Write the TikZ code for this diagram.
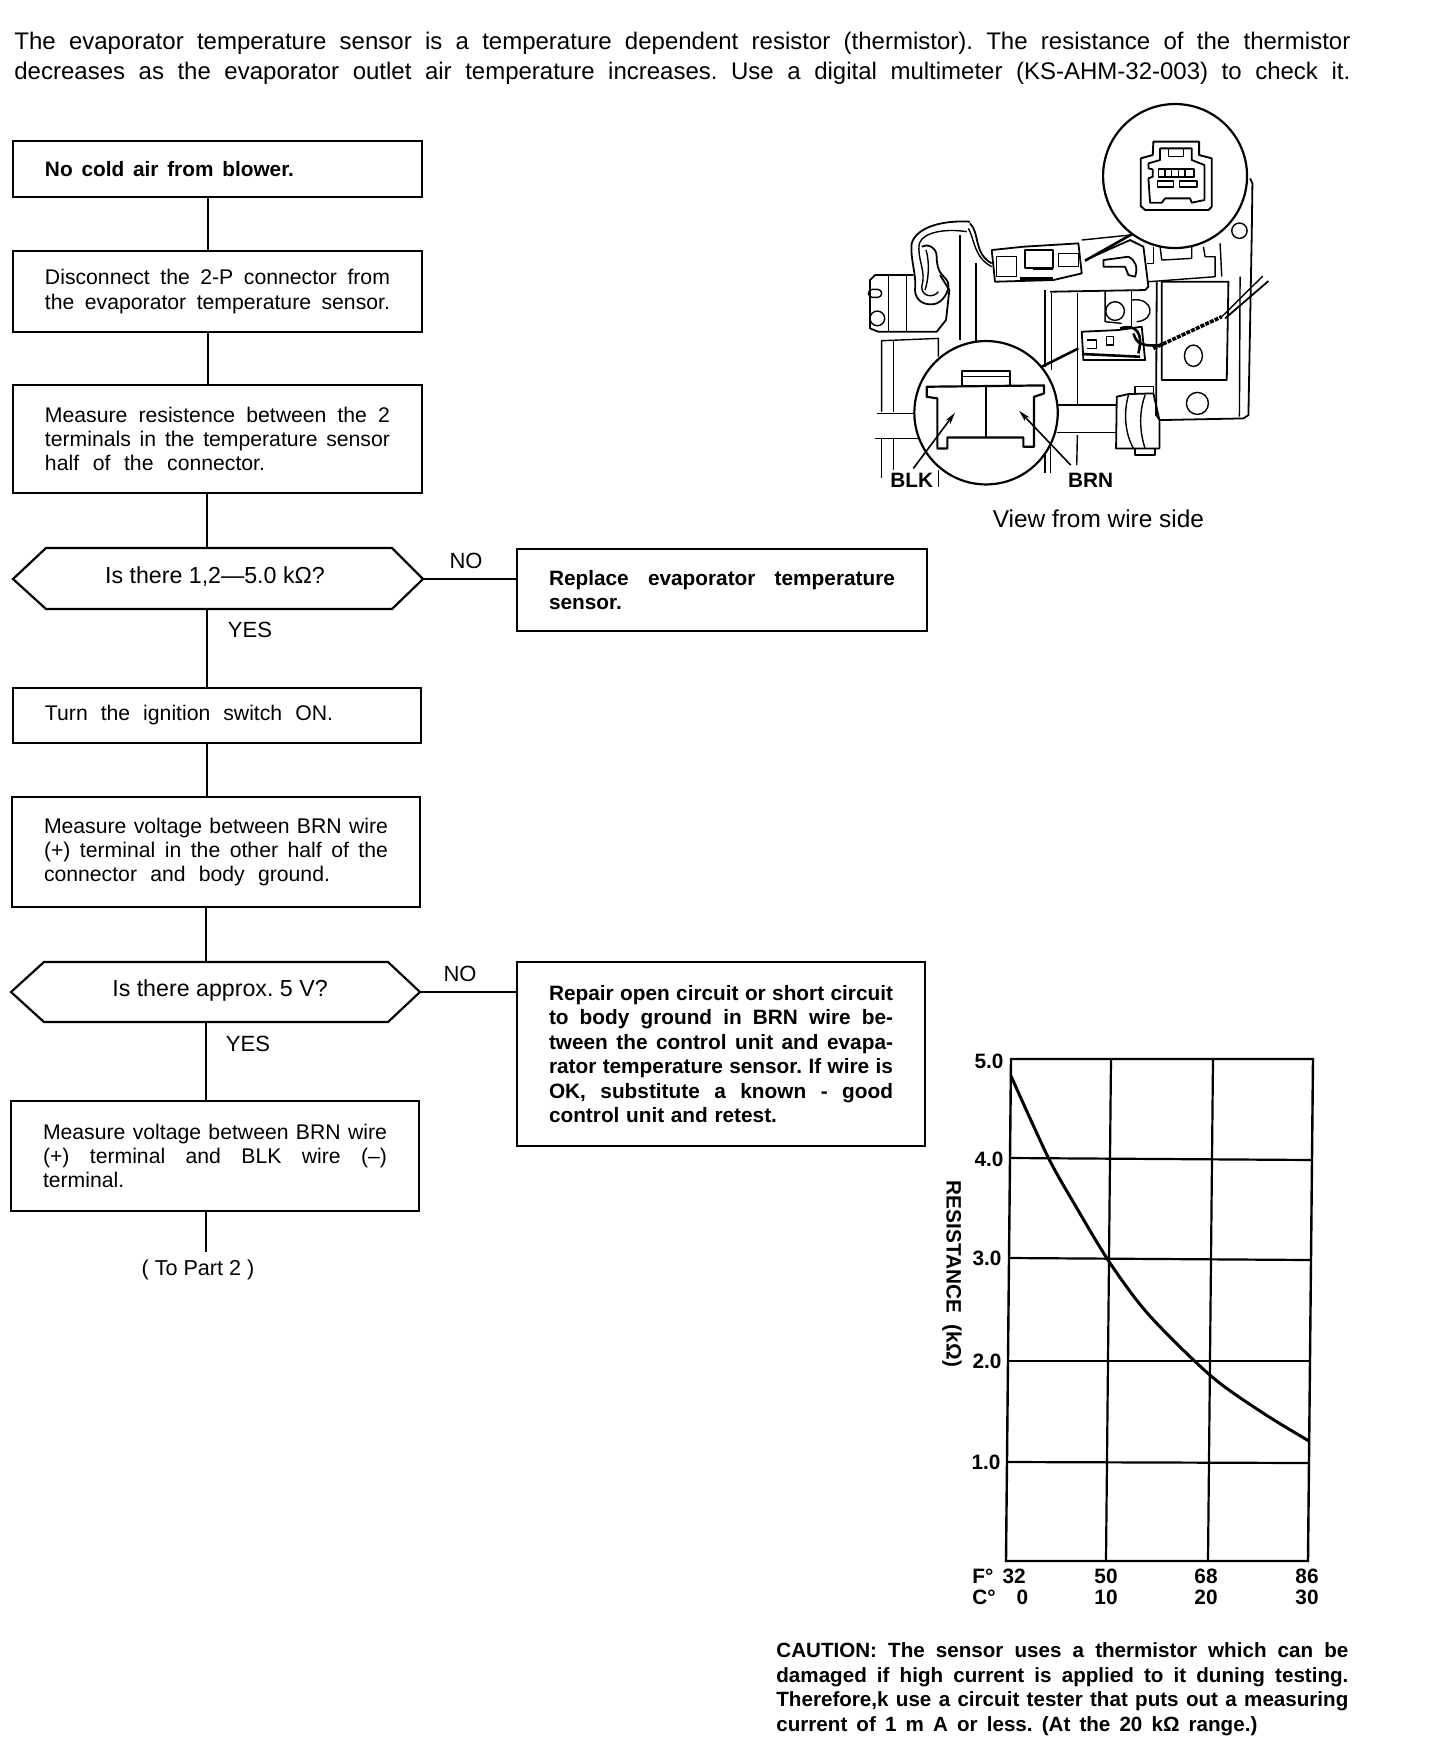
\documentclass[tikz,border=0pt]{standalone}
\usepackage{fontspec}
\setmainfont{Liberation Sans}
\usetikzlibrary{arrows.meta}
\newlength\jlw
\newcommand\jlx[2]{\leavevmode\hbox to #1{\spaceskip=0.28em plus 1fil\relax #2}}
\newcommand\jl[1]{\jlx{\jlw}{#1}}
\newcommand\bxnode[7][box]{%
  \pgfmathsetmacro\bxw{(#5-#3)*0.5}\pgfmathsetmacro\bxh{(#6-#4)*0.5}%
  \pgfmathsetmacro\bxt{\bxw-32}%
  \setlength\jlw{\bxt pt}%
  \node[#1,minimum width=\bxw pt,minimum height=\bxh pt,text width=\bxt pt] (#2) at ({(#3+#5)/2},{(#4+#6)/2}) {#7};}
\tikzset{
  x=0.5pt,y=-0.5pt,
  box/.style={draw,line width=1.2pt,inner xsep=16pt,inner ysep=0pt,outer sep=0pt,align=left,font=\fontsize{10.6}{12.2}\selectfont},
  boldbox/.style={box,font=\fontsize{10.4}{12.2}\bfseries\selectfont},
  decshape/.style={line width=1.1pt},
  link/.style={line width=1pt},
  lab/.style={font=\fontsize{11}{12}\selectfont,inner sep=0pt},
  grid line/.style={line width=1.1pt},
  draft/.style={line width=0.7pt},
  draftthick/.style={line width=1.3pt},
  tick label/.style={font=\fontsize{10.4}{10}\bfseries\selectfont,inner sep=0pt},
}
\begin{document}
\frenchspacing
\begin{tikzpicture}
\useasboundingbox (0,0) rectangle (1440,1742);
\fill[white] (0,0) rectangle (1440,1742);
% intro
\setlength\jlw{668pt}
\node[anchor=north west,inner sep=0pt,text width=668pt,align=left,font=\fontsize{12}{15}\selectfont] (intro) at (14,32) {\jl{The evaporator temperature sensor is a temperature dependent resistor (thermistor). The resistance of the thermistor}\\ \jl{decreases as the evaporator outlet air temperature increases. Use a digital multimeter (KS-AHM-32-003) to check it.}};
% flow boxes
\bxnode[boldbox]{b1}{13}{141}{422}{197}{\jlx{124.5pt}{No cold air from blower.}}
\bxnode{b2}{13}{251}{422}{332}{\jl{Disconnect the 2-P connector from}\\ \jl{the evaporator temperature sensor.}}
\bxnode{b3}{13}{385}{422}{493}{\jl{Measure resistence between the 2}\\ \jl{terminals in the temperature sensor}\\ \jlx{110pt}{half of the connector.}}
\node[lab,font=\fontsize{11.6}{12}\selectfont] (d1t) at (215,577) {Is there 1,2---5.0 kΩ?};
\draw[decshape] (13,579) coordinate (d1w) -- (46,548) coordinate (d1n1) -- (392,548) coordinate (d1n2) -- (423,579) coordinate (d1e) -- (392,609) coordinate (d1s2) -- (46,609) coordinate (d1s1) -- cycle;
\bxnode[boldbox]{n1}{517}{549}{927}{631}{\jl{Replace evaporator temperature}\\ sensor.}
\bxnode{b4}{13}{688}{421}{743}{\jlx{144pt}{Turn the ignition switch ON.}}
\bxnode{b5}{12}{797}{420}{907}{\jl{Measure voltage between BRN wire}\\ \jl{(+) terminal in the other half of the}\\ \jlx{143pt}{connector and body ground.}}
\node[lab,font=\fontsize{11.6}{12}\selectfont] (d2t) at (220,990) {Is there approx. 5 V?};
\draw[decshape] (11,992) coordinate (d2w) -- (44,962) coordinate (d2n1) -- (388,962) coordinate (d2n2) -- (420,992) coordinate (d2e) -- (388,1022) coordinate (d2s2) -- (44,1022) coordinate (d2s1) -- cycle;
\bxnode[boldbox]{n2}{517}{962}{925}{1146}{\jl{Repair open circuit or short circuit}\\ \jl{to body ground in BRN wire be-}\\ \jl{tween the control unit and evapa-}\\ \jl{rator temperature sensor. If wire is}\\ \jl{OK, substitute a known - good}\\ \jlx{114pt}{control unit and retest.}}
\bxnode{b6}{11}{1101}{419}{1211}{\jl{Measure voltage between BRN wire}\\ \jl{(+) terminal and BLK wire (--)}\\ terminal.}
\node[lab,font=\fontsize{10.8}{12}\selectfont] (tp) at (198,1270) {( To Part 2 )};
% links
\coordinate (sa) at (208,0); \coordinate (sb) at (207,0); \coordinate (sc) at (206,0);
\draw[link] (b1.south -| sa) -- (b2.north -| sa);
\draw[link] (b2.south -| sa) -- (b3.north -| sa);
\draw[link] (b3.south -| sb) -- (d1n1 -| sb);
\draw[link] (d1s1 -| sb) -- (b4.north -| sb);
\draw[link] (b4.south -| sb) -- (b5.north -| sb);
\draw[link] (b5.south -| sc) -- (d2n1 -| sc);
\draw[link] (d2s1 -| sc) -- (b6.north -| sc);
\draw[link] (b6.south -| sc) -- (206,1252) coordinate (tps);
\draw[link] (d1e) -- (n1.west |- d1e);
\draw[link] (d2e) -- (n2.west |- d2e);
\node[lab] (no1) at (466,561) {NO};
\node[lab] (yes1) at (250,630) {YES};
\node[lab] (no2) at (460,974) {NO};
\node[lab] (yes2) at (248,1044) {YES};
% illustration (zoom coordinates)
\begin{scope}[shift={(820,100)},x=0.1667pt,y=-0.1667pt,line join=round]
 % right bracket
 \draw[draft,line width=0.9pt] (1290,235) -- (1297,250) -- (1295,400) -- (1285,945) -- (1270,955) -- (1020,960) -- (1008,945) -- (1010,545);
 \draw[draft] (1260,530) -- (1258,950);
 \draw[draft] (1200,430) -- (1205,530);
 \draw[draft,line width=0.9pt] (1025,545) -- (1225,545) -- (1220,840) -- (1025,840) -- cycle;
 \draw[draft] (1258,392) circle[radius=23];
 \draw[draft] (1120,767) ellipse[x radius=27,y radius=32];
 \draw[draft] (1132,910) circle[radius=33];
 \draw[draft] (1020,440) -- (1025,480) -- (1115,475) -- (1115,440);
 \draw[draft] (1150,440) -- (1155,470) -- (1185,470) -- (1185,530) -- (985,545);
 \draw[draft] (1000,440) -- (1000,490) -- (980,490);
 % top connector
 \draw[draft,line width=0.9pt] (515,450) -- (610,440) -- (775,430) -- (785,520) -- (700,540) -- (525,545) -- cycle;
 \draw[draft,line width=1pt] (615,450) rectangle (700,505);
 \draw[draft] (715,460) rectangle (775,500);
 \draw[draft] (530,470) -- (530,530) -- (590,530) -- (590,470) -- cycle;
 \draw[draftthick] (640,505) -- (700,505);
 \draw[draftthick] (600,535) -- (700,535);
 % support
 \draw[draft,line width=0.9pt] (795,480) -- (930,420) -- (970,440) -- (985,560) -- (975,570) -- (690,575);
 \draw[draft] (785,420) -- (930,405);
 \draw[draft,line width=0.9pt] (850,480) -- (925,470) .. controls (945,480) and (955,500) .. (945,530) -- (925,525) -- (915,500) -- (850,500) -- cycle;
 \draw[draftthick] (795,482) -- (940,400);
 % wire loop
 \draw[draft,line width=0.9pt] (450,365) .. controls (370,360) and (290,380) .. (275,430) .. controls (270,480) and (290,520) .. (285,570) .. controls (285,605) and (320,620) .. (350,610) .. controls (375,600) and (395,560) .. (380,540) .. controls (370,525) and (350,520) .. (350,470) .. controls (350,440) and (320,430) .. (305,440);
 \draw[draft] (440,395) .. controls (380,385) and (310,395) .. (298,430) .. controls (290,480) and (320,510) .. (305,560) .. controls (305,590) and (340,595) .. (355,575);
 \draw[draft,line width=0.9pt] (450,370) .. controls (480,400) and (460,460) .. (515,490);
 \draw[draft] (445,385) .. controls (465,420) and (460,470) .. (515,500);
 \draw[draft] (318,450) .. controls (330,490) and (325,540) .. (315,570);
 % left block
 \draw[draft,line width=0.9pt] (280,525) -- (165,525) -- (150,540) -- (150,685) -- (175,695) -- (350,695) -- (378,660) -- (388,570) -- (360,525);
 \draw[draft] (205,525) -- (205,695);
 \draw[draft] (260,525) -- (260,695);
 \draw[draft,rounded corners=2pt] (145,568) rectangle (185,592);
 \draw[draft] (172,655) circle[radius=22];
 \draw[draft] (420,405) -- (420,720);
 \draw[draft] (468,490) -- (468,725);
 \draw[draft] (355,770) -- (355,715) -- (185,722) -- (185,935);
 \draw[draft] (220,720) -- (220,935);
 \draw[draft,line width=0.9pt] (170,940) -- (290,940);
 \draw[draft,line width=0.9pt] (165,1015) -- (295,1015);
 \draw[draft] (185,1015) -- (185,1135);
 \draw[draft] (220,1015) -- (220,1110);
 \draw[draft] (355,1110) -- (355,1160);
 % verticals
 \draw[draft,line width=0.9pt] (675,570) -- (675,800);
 \draw[draft] (695,580) -- (695,810);
 \draw[draft] (772,580) -- (772,912);
 \draw[draft,line width=0.9pt] (712,915) -- (890,915);
 \draw[draft,line width=0.9pt] (710,997) -- (890,997);
 \draw[draft] (772,1005) -- (770,1095);
 \draw[draft] (675,1060) -- (675,1120);
 \draw[draft] (692,1040) -- (692,1120);
 % grommet
 \draw[draft,line width=0.9pt] (925,882) -- (890,890) -- (888,1045) -- (1018,1045) -- (1018,960) -- (1000,880) -- cycle;
 \draw[draft] (945,880) -- (945,860) -- (1000,860) -- (1000,880);
 \draw[draft] (945,1045) -- (945,1065) -- (1005,1065) -- (1005,1045);
 \draw[draft] (925,885) .. controls (910,940) and (915,1000) .. (940,1045);
 \draw[draft] (975,885) .. controls (955,940) and (960,1000) .. (975,1045);
 % lower connector
 \draw[draft] (855,570) -- (855,665) -- (905,670);
 \draw[draft] (885,633) circle[radius=28];
 \draw[draft] (935,600) .. controls (1000,590) and (1010,660) .. (950,665);
 \draw[draft] (935,570) -- (935,680);
 \draw[draft,line width=0.9pt] (785,695) -- (895,690) -- (965,680) -- (975,780) -- (790,780) -- cycle;
 \draw[draft] (800,720) -- (830,720) -- (830,745) -- (800,745);
 \draw[draft] (860,710) rectangle (880,735);
 \draw[draftthick] (790,762) -- (960,770);
 \draw[draftthick] (900,685) .. controls (950,670) and (970,700) .. (955,760);
 \draw[draftthick] (940,700) .. controls (950,730) and (960,740) .. (1030,735);
 \draw[line width=1.8pt,dash pattern=on 2pt off 0.6pt] (1000,745) -- (1205,650);
 \draw[draft] (1205,650) -- (1328,528);
 \draw[draft,line width=0.9pt] (1215,655) -- (1345,543);
 \draw[draftthick] (665,800) -- (775,745);
 % top circle
 \node[circle,draw,fill=white,line width=1.1pt,minimum size=72pt,inner sep=0pt] (topc) at (1065,228) {};
 \draw[line width=0.95pt] (1000,125) -- (1137,125) -- (1137,165) -- (1175,175) -- (1175,320) -- (1165,330) -- (975,330) -- (962,318) -- (962,175) -- (998,165) -- cycle;
 \draw[draft,line width=0.9pt] (1020,180) -- (1020,145) -- (1115,145) -- (1115,180) -- (1153,195) -- (1153,300) -- (1115,308) -- (1110,295) -- (1035,295) -- (1025,308) -- (990,308) -- (985,235) -- (998,230) -- (998,208) -- (985,205) -- (985,190) -- cycle;
 \draw[draft] (1045,145) rectangle (1090,170);
 \draw[draft,line width=0.9pt] (1015,208) rectangle (1122,230);
 \draw[draft] (1035,208) -- (1035,230) (1055,208) -- (1055,230) (1075,208) -- (1075,230) (1095,208) -- (1095,230);
 \draw[draft,line width=0.9pt] (1012,243) rectangle (1060,262);
 \draw[draft,line width=0.9pt] (1078,243) rectangle (1130,262);
 % bottom circle
 \node[circle,draw,fill=white,line width=1.1pt,minimum size=71.7pt,inner sep=0pt] (botc) at (498,938) {};
 \draw[line width=1.1pt] (320,890) -- (320,860) -- (672,856) -- (672,880) -- (642,890) -- (642,1040) -- (610,1040) -- (610,1012) -- (382,1012) -- (382,1045) -- (352,1045) -- (352,895) -- cycle;
 \draw[line width=0.95pt] (425,858) -- (425,812) -- (570,812) -- (570,858);
 \draw[draft] (425,830) -- (570,830);
 \draw[draft] (498,860) -- (498,1012);
 \coordinate (blkend) at (280,1105);
 \coordinate (brnend) at (752,1095);
 \node[inner sep=0pt,font=\fontsize{10.4}{12}\bfseries\selectfont] (blk) at (275,1142) {BLK};
 \node[inner sep=0pt,font=\fontsize{10.4}{12}\bfseries\selectfont] (brn) at (812,1140) {BRN};
 \draw[draft,line width=0.8pt,-{Stealth[length=6pt,width=3pt]}] (blkend) -- (405,938);
 \draw[draft,line width=0.8pt,-{Stealth[length=6pt,width=3pt]}] (brnend) -- (597,932);
 \node[lab,font=\fontsize{12.2}{12}\selectfont] (view) at (835,1255) {View from wire side};
\end{scope}
% chart
\coordinate (tl) at (1011,1059); \coordinate (tr) at (1313,1059);
\coordinate (bl) at (1006,1561); \coordinate (br) at (1308,1561);
\draw[line width=1.2pt] (tl) -- (tr) -- (br) -- (bl) -- cycle;
\draw[grid line] (1111,1059) -- (1106,1561);
\draw[grid line] (1213,1059) -- (1208,1561);
\draw[grid line] (1010,1158) -- (1312,1160);
\draw[grid line] (1009,1258) -- (1311,1260);
\draw[grid line] (1008,1361) -- (1310,1361);
\draw[grid line] (1007,1462) -- (1309,1463);
\draw[line width=1.5pt] plot[smooth] coordinates {(1011,1076) (1048,1157) (1075,1205) (1110,1263) (1149,1315) (1211,1376) (1263,1413) (1309,1441)};
\node[tick label] (y5) at (989,1061) {5.0};
\node[tick label] (y4) at (989,1159) {4.0};
\node[tick label] (y3) at (987,1258) {3.0};
\node[tick label] (y2) at (987,1361) {2.0};
\node[tick label] (y1) at (986,1462) {1.0};
\node[rotate=-90,inner sep=0pt,font=\fontsize{10.4}{10}\bfseries\selectfont] (yl) at (952,1274) {RESISTANCE\ \ (kΩ)};
\node[tick label,anchor=west] (ff) at (972,1576) {F°\ \,32};
\node[tick label,anchor=west] (cc) at (972,1597) {C°\ \ \ \,0};
\node[tick label] (f50) at (1106,1576) {50};
\node[tick label] (c10) at (1106,1597) {10};
\node[tick label] (f68) at (1206,1576) {68};
\node[tick label] (c20) at (1206,1597) {20};
\node[tick label] (f86) at (1307,1576) {86};
\node[tick label] (c30) at (1307,1597) {30};
% caution
\setlength\jlw{286pt}
\node[anchor=north west,inner sep=0pt,text width=286pt,align=left,font=\fontsize{10.3}{12.4}\bfseries\selectfont] (caution) at (776,1642) {\jl{CAUTION: The sensor uses a thermistor which can be}\\ \jl{damaged if high current is applied to it duning testing.}\\ \jl{Therefore,k use a circuit tester that puts out a measuring}\\ \jlx{240.5pt}{current of 1 m A or less. (At the 20 kΩ range.)}};
\end{tikzpicture}
\end{document}
